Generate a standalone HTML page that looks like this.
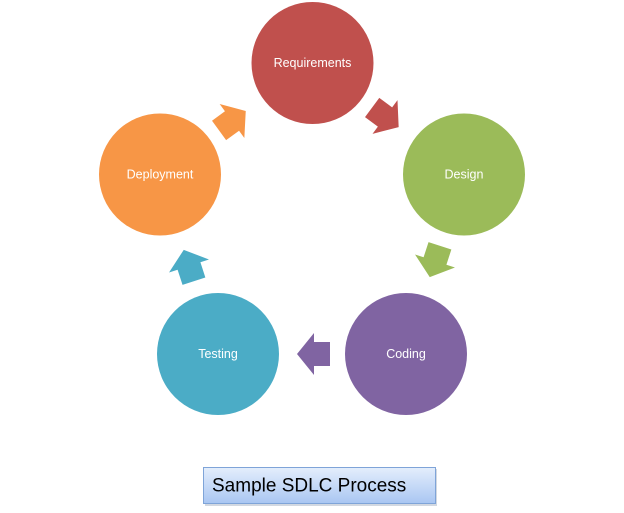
<!DOCTYPE html>
<html><head><meta charset="utf-8"><style>
html,body{margin:0;padding:0;background:#fff;}
svg{display:block;}
.t{font-family:"Liberation Sans",Calibri,sans-serif;font-size:12.5px;fill:#fff;text-anchor:middle;dominant-baseline:central;}
</style></head><body>
<svg width="624" height="513" viewBox="0 0 624 513" xmlns="http://www.w3.org/2000/svg">
<defs>
<polygon id="ar" points="-16,-12 0,-12 0,-21 17,0 0,21 0,12 -16,12"/>
<linearGradient id="bg" x1="0" y1="0" x2="0" y2="1">
<stop offset="0" stop-color="#e4eefc"/><stop offset="1" stop-color="#a9c6f2"/>
</linearGradient>
</defs>
<circle cx="312.5" cy="63" r="61" fill="#c0504d"/>
<circle cx="464" cy="174.5" r="61" fill="#9bbb59"/>
<circle cx="406" cy="354" r="61" fill="#8064a2"/>
<circle cx="218" cy="354" r="61" fill="#4bacc6"/>
<circle cx="160" cy="174.5" r="61" fill="#f79646"/>
<text class="t" x="312.5" y="63">Requirements</text>
<text class="t" x="464" y="174.5">Design</text>
<text class="t" x="406" y="354">Coding</text>
<text class="t" x="218" y="354">Testing</text>
<text class="t" x="160" y="174.5">Deployment</text>
<use href="#ar" fill="#c0504d" transform="translate(385,117) rotate(36.5)"/>
<use href="#ar" fill="#9bbb59" transform="translate(435,261) rotate(108)"/>
<use href="#ar" fill="#8064a2" transform="translate(314,354) rotate(180)"/>
<use href="#ar" fill="#4bacc6" transform="translate(189,266) rotate(-108)"/>
<use href="#ar" fill="#f79646" transform="translate(232,121) rotate(-36)"/>
<rect x="205" y="469" width="232" height="37" fill="#7f8fa8" opacity="0.35"/>
<rect x="203.5" y="467.5" width="232" height="36" fill="url(#bg)" stroke="#7fa4d8" stroke-width="1"/>
<text x="212" y="486" font-family="'Liberation Sans',Calibri,sans-serif" font-size="19" fill="#000" dominant-baseline="central">Sample SDLC Process</text>
</svg>
</body></html>
